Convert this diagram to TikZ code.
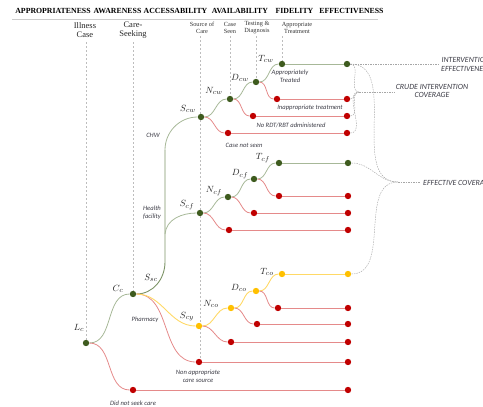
\documentclass[tikz,border=0pt]{standalone}
\usepackage{fontspec}
\usetikzlibrary{backgrounds}
\setmainfont{Liberation Serif}
\newfontfamily\notefont{Carlito}
\definecolor{dotgreen}{HTML}{3E5B1E}
\definecolor{dotred}{HTML}{C00000}
\definecolor{dotyellow}{HTML}{FFC000}
\definecolor{linegreen}{HTML}{A7B898}
\definecolor{trunkgreen}{HTML}{7D9467}
\definecolor{linered}{HTML}{E58A8A}
\definecolor{lineyellow}{HTML}{FFD966}
\definecolor{guide}{HTML}{BDBDBD}
\definecolor{notegray}{HTML}{3C3C46}
\begin{document}
\begin{tikzpicture}[x=1pt,y=-1pt,
  dot/.style={circle,inner sep=0pt,minimum size=6.4pt},
  gdot/.style={dot,fill=dotgreen},
  rdot/.style={dot,fill=dotred},
  ydot/.style={dot,fill=dotyellow},
  gpath/.style={draw=linegreen,line width=0.8pt},
  rpath/.style={draw=linered,line width=0.8pt},
  ypath/.style={draw=lineyellow,line width=0.9pt},
  trunk/.style={draw=trunkgreen,line width=0.9pt},
  sbend/.style={out=0,in=180},
  guideline/.style={draw=guide,line width=0.4pt,dash pattern=on 2pt off 2pt},
  bracket/.style={draw=black!35,line width=0.45pt,dash pattern=on 1.5pt off 1pt},
  hdr/.style={font=\fontsize{7.8}{9}\selectfont\bfseries,inner sep=0pt},
  colhdr/.style={font=\fontsize{8.5}{9}\selectfont,align=center,inner sep=0pt,text=black!85},
  subhdr/.style={font=\fontsize{6.3}{7}\selectfont,align=center,inner sep=0pt,text=black!80},
  note/.style={font=\notefont\itshape\fontsize{6.6}{8}\selectfont,align=center,inner sep=0pt,text=notegray},
  capnote/.style={font=\notefont\itshape\fontsize{7.9}{8.5}\selectfont,align=center,inner sep=0pt,text=notegray},
  mlbl/.style={font=\fontsize{9.5}{10}\selectfont,inner sep=0pt,text=black!85},
]
\useasboundingbox (0,0) rectangle (483,407);
\clip (0,0) rectangle (483,407);

% ---------- headings ----------
\node[hdr] (hA) at (53,11) {APPROPRIATENESS};
\node[hdr] (hB) at (117.5,11) {AWARENESS};
\node[hdr] (hC) at (175.5,11) {ACCESSABILITY};
\node[hdr] (hD) at (240,11) {AVAILABILITY};
\node[hdr] (hE) at (294.5,11) {FIDELITY};
\node[hdr] (hF) at (351.5,11) {EFFECTIVENESS};
\coordinate (ruleL) at (12,19);
\coordinate (ruleR) at (378,19);
\draw[draw=black!20,line width=0.6pt] (ruleL) -- (ruleR);

\node[colhdr] (cIll) at (85,30.5) {Illness\\Case};
\node[colhdr] (cCare) at (133,30.5) {Care-\\Seeking};
\node[subhdr] (cSrc) at (202,27.5) {Source of\\Care};
\node[subhdr] (cSeen) at (230,27.5) {Case\\Seen};
\node[subhdr] (cTest) at (257,27.5) {Testing \&\\Diagnosis};
\node[subhdr] (cTreat) at (297,27.5) {Appropriate\\Treatment};

% ---------- nodes ----------
\node[gdot] (Lc) at (86,343) {};
\node[gdot] (Cc) at (133,294) {};
% community health worker
\node[gdot] (Scw) at (201,117) {};
\node[gdot] (Ncw) at (230,99) {};
\node[gdot] (Dcw) at (256,82) {};
\node[gdot] (Tcw) at (282,64) {};
\node[gdot] (TcwE) at (347,64) {};
\node[rdot] (DcwR) at (277,99) {};
\node[rdot] (DcwRE) at (347,99) {};
\node[rdot] (NcwR) at (253,116) {};
\node[rdot] (NcwRE) at (347,116) {};
\node[rdot] (ScwR) at (228,133) {};
\node[rdot] (ScwRE) at (347,133) {};
% health facility
\node[gdot] (Scf) at (200,213) {};
\node[gdot] (Ncf) at (228,197) {};
\node[gdot] (Dcf) at (254,179) {};
\node[gdot] (Tcf) at (279,163) {};
\node[gdot] (TcfE) at (348,163) {};
\node[rdot] (DcfR) at (279,196) {};
\node[rdot] (DcfRE) at (348,196) {};
\node[rdot] (NcfR) at (254,213) {};
\node[rdot] (NcfRE) at (348,213) {};
\node[rdot] (ScfR) at (229,230) {};
\node[rdot] (ScfRE) at (348,230) {};
% pharmacy
\node[ydot] (Scy) at (199,326) {};
\node[ydot] (Nco) at (231,308) {};
\node[ydot] (Dco) at (256,291) {};
\node[ydot] (Tco) at (282,274) {};
\node[ydot] (TcoE) at (348,274) {};
\node[rdot] (DcoR) at (278,308) {};
\node[rdot] (DcoRE) at (348,308) {};
\node[rdot] (NcoR) at (257,324) {};
\node[rdot] (NcoRE) at (348,324) {};
\node[rdot] (ScyR) at (231,342) {};
\node[rdot] (ScyRE) at (348,342) {};
% other outcomes
\node[rdot] (NA) at (199,362) {};
\node[rdot] (NAE) at (348,362) {};
\node[rdot] (DNS) at (133,390) {};
\node[rdot] (DNSE) at (348,390) {};

% ---------- column guide lines ----------
\coordinate (gIll) at (86,42);
\coordinate (gCare) at (133,42);
\coordinate (gSrc) at (200,36);
\coordinate (gSeen) at (230,36);
\coordinate (gTest) at (256,36);
\coordinate (gTreat) at (282,36);
\coordinate (gSrcB) at (200,362);
\begin{scope}[on background layer]
\draw[guideline] (gIll) -- (Lc.center);
\draw[guideline] (gCare) -- (Cc.center);
\draw[guideline] (gSrc) -- (gSrcB);
\draw[guideline] (gSeen) -- (Ncw.center);
\draw[guideline] (gTest) -- (Dcw.center);
\draw[guideline] (gTreat) -- (Tcw.center);
\end{scope}

% ---------- branches ----------
\coordinate (trunkLow) at (165,262);
\coordinate (trunkHigh) at (165,150);
\coordinate (hfRoot) at (165,234);
\draw[gpath] (Lc) to[sbend] (Cc);
\draw[rpath] (Lc) to[sbend] (DNS);
\draw[rpath] (DNS) -- (DNSE);
\draw[trunk] (Cc) to[out=0,in=-90] (trunkLow) -- (trunkHigh);
\draw[gpath] (trunkHigh) to[out=90,in=180] (Scw);
\draw[gpath] (hfRoot) to[out=85,in=180] (Scf);
\draw[rpath] (Cc) to[sbend] (NA);
\draw[rpath] (NA) -- (NAE);
\draw[ypath] (Cc) to[sbend] (Scy);

\draw[gpath] (Scw) to[sbend] (Ncw);
\draw[gpath] (Ncw) to[sbend] (Dcw);
\draw[gpath] (Dcw) to[sbend] (Tcw);
\draw[gpath] (Tcw) -- (TcwE);
\draw[rpath] (Scw) to[sbend] (ScwR);
\draw[rpath] (Ncw) to[sbend] (NcwR);
\draw[rpath] (Dcw) to[sbend] (DcwR);
\draw[rpath] (ScwR) -- (ScwRE);
\draw[rpath] (NcwR) -- (NcwRE);
\draw[rpath] (DcwR) -- (DcwRE);

\draw[gpath] (Scf) to[sbend] (Ncf);
\draw[gpath] (Ncf) to[sbend] (Dcf);
\draw[gpath] (Dcf) to[sbend] (Tcf);
\draw[gpath] (Tcf) -- (TcfE);
\draw[rpath] (Scf) to[sbend] (ScfR);
\draw[rpath] (Ncf) to[sbend] (NcfR);
\draw[rpath] (Dcf) to[sbend] (DcfR);
\draw[rpath] (ScfR) -- (ScfRE);
\draw[rpath] (NcfR) -- (NcfRE);
\draw[rpath] (DcfR) -- (DcfRE);

\draw[ypath] (Scy) to[sbend] (Nco);
\draw[ypath] (Nco) to[sbend] (Dco);
\draw[ypath] (Dco) to[sbend] (Tco);
\draw[ypath] (Tco) -- (TcoE);
\draw[rpath] (Scy) to[sbend] (ScyR);
\draw[rpath] (Nco) to[sbend] (NcoR);
\draw[rpath] (Dco) to[sbend] (DcoR);
\draw[rpath] (ScyR) -- (ScyRE);
\draw[rpath] (NcoR) -- (NcoRE);
\draw[rpath] (DcoR) -- (DcoRE);

% ---------- outcome brackets ----------
\coordinate (ieEnd) at (440,64);
\coordinate (J1) at (359,92);
\coordinate (J1E) at (395,92);
\coordinate (J2) at (398,182);
\coordinate (J2E) at (420,182);
\draw[bracket] (TcwE) -- (ieEnd);
\draw[bracket] (TcwE) to[sbend] (J1);
\draw[bracket] (DcwRE) to[sbend] (J1);
\draw[bracket] (NcwRE) to[sbend] (J1);
\draw[bracket] (ScwRE) to[sbend] (J1);
\draw[bracket] (J1) -- (J1E);
\draw[bracket] (TcwE) to[sbend] (J2);
\draw[bracket] (TcfE) to[sbend] (J2);
\draw[bracket] (TcoE) to[sbend] (J2);
\draw[bracket] (J2) -- (J2E);

\node[capnote,anchor=west] (tIE) at (441,64.5) {INTERVENTION\\EFFECTIVENESS};
\node[capnote] (tCIC) at (432,91) {CRUDE INTERVENTION\\COVERAGE};
\node[capnote,anchor=west] (tEC) at (423,182.5) {EFFECTIVE COVERAGE};

% ---------- branch notes ----------
\node[note] (nAT) at (290,76) {Appropriately\\Treated};
\node[note] (nIT) at (310,108) {Inappropriate treatment};
\node[note] (nNR) at (291,125.5) {No RDT/RBT administered};
\node[note] (nCN) at (244,145) {Case not seen};
\node[note] (nCHW) at (153,135) {CHW};
\node[note] (nHF) at (152,212.5) {Health\\facility};
\node[note] (nPh) at (145,320) {Pharmacy};
\node[note] (nNA) at (198,376.5) {Non appropriate\\care source};
\node[note] (nDNS) at (133,403) {Did not seek care};

% ---------- node symbols ----------
\node[mlbl] (mLc) at (79,328) {$L_c$};
\node[mlbl] (mCc) at (118,289) {$C_c$};
\node[mlbl] (mSsc) at (151,278) {$S_{sc}$};
\node[mlbl] (mScw) at (188,109) {$S_{cw}$};
\node[mlbl] (mNcw) at (214,91) {$N_{cw}$};
\node[mlbl] (mDcw) at (240,78) {$D_{cw}$};
\node[mlbl] (mTcw) at (266,59) {$T_{cw}$};
\node[mlbl] (mScf) at (187,205) {$S_{cf}$};
\node[mlbl] (mNcf) at (214,191) {$N_{cf}$};
\node[mlbl] (mDcf) at (240,174) {$D_{cf}$};
\node[mlbl] (mTcf) at (263,158) {$T_{cf}$};
\node[mlbl] (mScy) at (187,317) {$S_{cy}$};
\node[mlbl] (mNco) at (211,304) {$N_{co}$};
\node[mlbl] (mDco) at (239,288) {$D_{co}$};
\node[mlbl] (mTco) at (267,272) {$T_{co}$};
\end{tikzpicture}
\end{document}
